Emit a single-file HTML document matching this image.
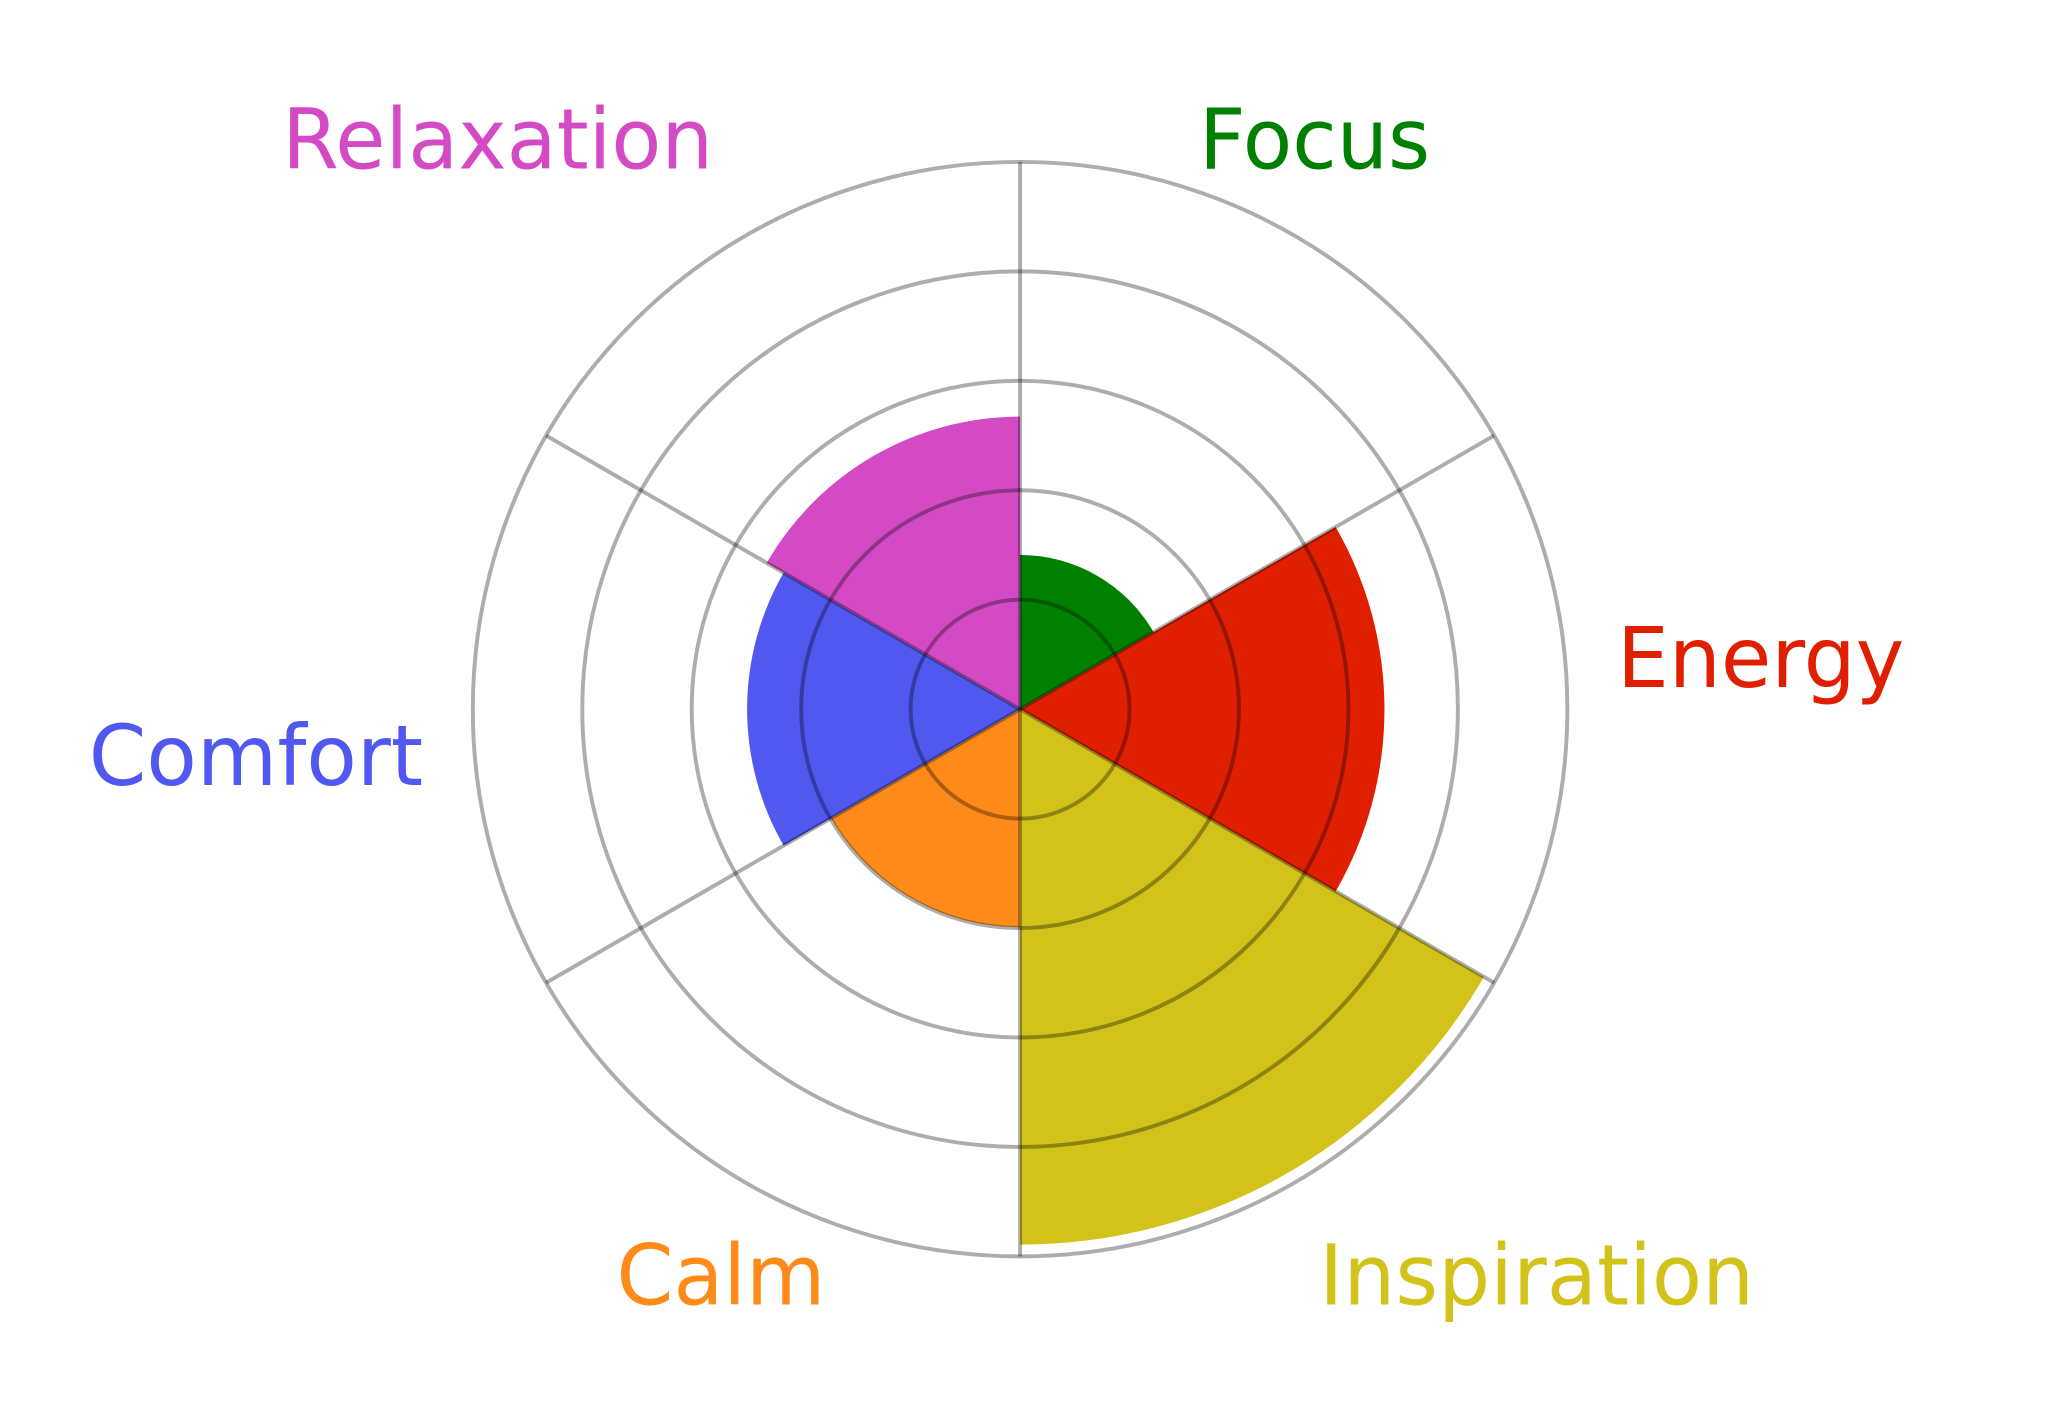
<!DOCTYPE html>
<html><head><meta charset="utf-8"><style>html,body{margin:0;padding:0;background:#fff}svg{display:block}</style></head>
<body>
<svg width="2048" height="1417" viewBox="0 0 1568 1085" preserveAspectRatio="none" xmlns="http://www.w3.org/2000/svg">
<rect width="1568" height="1085" fill="#fff"/>
<g stroke="none">
<path d="M781,543 L781,425 A118,118 0 0 1 883.2,484 Z" fill="#008000"/>
<path d="M781,543 L1022.6,403.5 A279,279 0 0 1 1022.6,682.5 Z" fill="#df1f00"/>
<path d="M781,543 L1136.1,748 A410,410 0 0 1 781,953 Z" fill="#d2c21a"/>
<path d="M781,543 L781,710 A167,167 0 0 1 636.4,626.5 Z" fill="#fd8a19"/>
<path d="M781,543 L600,647.5 A209,209 0 0 1 600,438.5 Z" fill="#5058f0"/>
<path d="M781,543 L587,431 A224,224 0 0 1 781,319 Z" fill="#d44ac4"/>
</g>
<g fill="none" stroke="rgba(0,0,0,0.32)" stroke-width="3">
<circle cx="781" cy="543" r="83.8"/>
<circle cx="781" cy="543" r="167.6"/>
<circle cx="781" cy="543" r="251.4"/>
<circle cx="781" cy="543" r="335.2"/>
<circle cx="781" cy="543" r="419"/>
<line x1="781" y1="124" x2="781" y2="962"/>
<line x1="1143.9" y1="333.5" x2="418.1" y2="752.5"/>
<line x1="1143.9" y1="752.5" x2="418.1" y2="333.5"/>
</g>
<g font-family="DejaVu Sans, Liberation Sans, sans-serif" font-size="64">
<text x="216" y="129" fill="#d44ac4" textLength="330" lengthAdjust="spacingAndGlyphs">Relaxation</text>
<text x="918" y="129" fill="#008000" textLength="177" lengthAdjust="spacingAndGlyphs">Focus</text>
<text x="1238" y="526" fill="#df1f00" textLength="220" lengthAdjust="spacingAndGlyphs">Energy</text>
<text x="68" y="601" fill="#5058f0" textLength="256" lengthAdjust="spacingAndGlyphs">Comfort</text>
<text x="472" y="999" fill="#fd8a19" textLength="160" lengthAdjust="spacingAndGlyphs">Calm</text>
<text x="1010" y="999" fill="#d2c21a" textLength="333" lengthAdjust="spacingAndGlyphs">Inspiration</text>
</g>
</svg>
</body></html>
